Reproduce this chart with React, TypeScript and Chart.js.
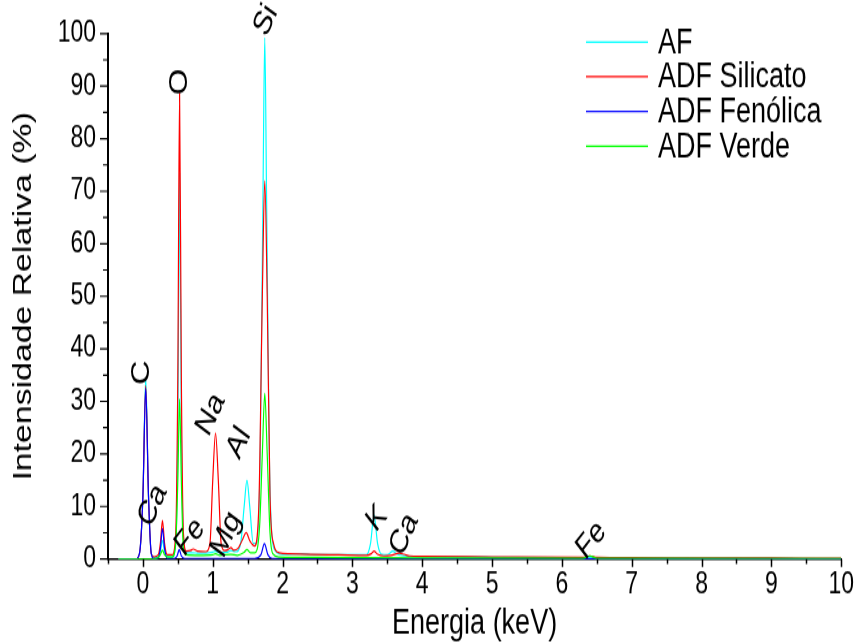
import React, { useEffect, useRef } from "react";
import { Chart, registerables } from "chart.js";

Chart.register(...registerables);

const FONT = '"Liberation Sans", Arial, Helvetica, sans-serif';

// The picture is shown vertically stretched (like the reference figure)
const CANVAS_W = 860;
const CANVAS_H = 495;
const SHOW_H = 644;
const S = SHOW_H / CANVAS_H;

const seriesNames = ["AF", "ADF Silicato", "ADF Fenólica", "ADF Verde"];
const seriesColors = ["#00FFFF", "#FF0000", "#0000FF", "#00FF00"];

// AF (cyan)
const afE = [-0.35, -0.1, -0.05, 0.0, 0.04, 0.08, 0.12, 0.16, 0.22, 0.25, 0.28, 0.31, 0.35, 0.42, 0.47, 0.5, 0.525, 0.55, 0.58, 0.62, 0.7, 0.8, 0.9, 1.0, 1.04, 1.1, 1.2, 1.26, 1.33, 1.4, 1.45, 1.49, 1.53, 1.58, 1.63, 1.68, 1.72, 1.745, 1.77, 1.81, 1.85, 1.9, 2.0, 2.28, 2.4, 2.6, 3.0, 3.2, 3.26, 3.31, 3.36, 3.42, 3.5, 3.58, 3.64, 3.75, 4.0, 5.0, 6.0, 7.0, 8.0, 9.0, 10.0];
const afI = [0, 0, 1, 12, 34.5, 12, 1, 0.3, 0.5, 1.5, 3.5, 1.5, 0.5, 0.4, 3, 25, 73.4, 25, 4, 1.2, 1.2, 1.1, 1.1, 1.3, 1.5, 1.2, 1.3, 1.6, 1.4, 3, 10, 15, 10, 3, 3, 20, 70, 99.2, 70, 20, 4, 1.5, 0.9, 1.0, 0.85, 0.8, 0.8, 0.85, 3, 8.4, 3, 0.9, 0.85, 1.5, 0.9, 0.6, 0.5, 0.35, 0.25, 0.2, 0.15, 0.12, 0.1];

// ADF Silicato (red)
const silE = [-0.35, -0.1, -0.05, 0.0, 0.04, 0.08, 0.12, 0.16, 0.22, 0.25, 0.28, 0.31, 0.35, 0.42, 0.47, 0.5, 0.525, 0.55, 0.58, 0.62, 0.68, 0.72, 0.78, 0.9, 0.96, 1.0, 1.04, 1.08, 1.12, 1.17, 1.22, 1.26, 1.3, 1.36, 1.42, 1.48, 1.53, 1.6, 1.66, 1.71, 1.745, 1.78, 1.82, 1.87, 1.95, 2.1, 2.4, 2.8, 3.2, 3.27, 3.31, 3.36, 3.45, 3.55, 3.67, 3.74, 3.82, 4.0, 5.0, 6.3, 6.4, 6.5, 7.0, 8.0, 9.0, 10.0];
const silI = [0, 0, 1, 12, 33, 12, 1, 0.4, 0.8, 3, 7.3, 3, 0.8, 0.8, 5, 35, 88.7, 35, 5, 1.5, 1.6, 1.9, 1.5, 1.4, 3, 15, 24, 15, 3, 1.6, 1.8, 2.2, 1.7, 2.0, 3.5, 5, 3.5, 2.5, 10, 50, 72, 50, 12, 3, 1.2, 1.0, 0.9, 0.8, 0.7, 1.0, 1.5, 0.9, 0.6, 0.7, 1.1, 0.9, 0.6, 0.5, 0.4, 0.3, 0.6, 0.3, 0.25, 0.2, 0.18, 0.15];

// ADF Fenólica (blue)
const fenE = [-0.35, -0.1, -0.05, 0.0, 0.04, 0.08, 0.12, 0.16, 0.22, 0.25, 0.28, 0.31, 0.35, 0.45, 0.49, 0.52, 0.55, 0.6, 1.6, 1.69, 1.74, 1.79, 1.85, 10.0];
const fenI = [0, 0, 1, 12, 32.5, 12, 1, 0, 0.2, 2, 5.8, 2, 0.1, 0.1, 0.6, 1.8, 0.6, 0.1, 0.1, 0.8, 2.9, 0.8, 0.1, 0];

// ADF Verde (green)
const verE = [-0.35, 0.15, 0.22, 0.25, 0.28, 0.31, 0.35, 0.42, 0.47, 0.5, 0.525, 0.55, 0.58, 0.62, 0.8, 1.0, 1.04, 1.1, 1.26, 1.35, 1.45, 1.49, 1.54, 1.6, 1.67, 1.71, 1.745, 1.78, 1.82, 1.86, 1.95, 2.5, 4.0, 6.3, 6.4, 6.5, 10.0];
const verI = [0, 0, 0.3, 0.8, 1.7, 0.8, 0.4, 0.4, 3, 15, 30.5, 15, 2, 0.8, 0.7, 0.8, 1.0, 0.7, 0.9, 0.7, 1.3, 1.8, 1.2, 1.2, 6, 20, 31.5, 20, 5, 1, 0.4, 0.3, 0.2, 0.15, 0.6, 0.15, 0.1];

const seriesE = [afE, silE, fenE, verE];
const seriesI = [afI, silI, fenI, verI];

const xMajorTicks = [0, 1, 2, 3, 4, 5, 6, 7, 8, 9, 10];
const xMinorTicks = [-0.5, 0.5, 1.5, 2.5, 3.5, 4.5, 5.5, 6.5, 7.5, 8.5, 9.5];
const yMajorTicks = [0, 10, 20, 30, 40, 50, 60, 70, 80, 90, 100];
const yMinorTicks = [5, 15, 25, 35, 45, 55, 65, 75, 85, 95];

// Element annotations (energy, intensity, rotation in degrees)
const annText = ["C", "O", "Si", "Na", "Al", "Ca", "Fe", "Mg", "K", "Ca", "Fe"];
const annE = [-0.014, 0.53, 1.76, 0.97, 1.375, 0.14, 0.67, 1.19, 3.35, 3.74, 6.42];
const annI = [35.5, 90.8, 102.5, 27.5, 22.1, 10.2, 4.2, 4.7, 7.7, 4.7, 3.6];
const annAngle = [-90, -90, -60, -60, -60, -60, -45, -60, -45, -60, -45];

const decorPlugin = {
  id: "decor",
  afterDraw(chart: any) {
    const { ctx, chartArea } = chart;
    const xs = chart.scales.x;
    const ys = chart.scales.y;
    ctx.save();
    ctx.strokeStyle = "#000";
    // x ticks (vertical strokes)
    ctx.lineWidth = 1.5;
    ctx.beginPath();
    for (const v of xMajorTicks) {
      const p = Math.round(xs.getPixelForValue(v)) + 0.5;
      ctx.moveTo(p, chartArea.bottom);
      ctx.lineTo(p, chartArea.bottom + 8 / S);
    }
    for (const v of xMinorTicks) {
      const p = Math.round(xs.getPixelForValue(v)) + 0.5;
      ctx.moveTo(p, chartArea.bottom);
      ctx.lineTo(p, chartArea.bottom + 5 / S);
    }
    ctx.stroke();
    // y ticks (horizontal strokes)
    ctx.lineWidth = 1.5 / S;
    ctx.beginPath();
    for (const v of yMajorTicks) {
      const p = ys.getPixelForValue(v);
      ctx.moveTo(chartArea.left, p);
      ctx.lineTo(chartArea.left - 8, p);
    }
    for (const v of yMinorTicks) {
      const p = ys.getPixelForValue(v);
      ctx.moveTo(chartArea.left, p);
      ctx.lineTo(chartArea.left - 5, p);
    }
    ctx.stroke();

    // annotations
    ctx.fillStyle = "#000";
    ctx.font = `26px ${FONT}`;
    ctx.textAlign = "center";
    ctx.textBaseline = "middle";
    for (let i = 0; i < annText.length; i++) {
      const px = xs.getPixelForValue(annE[i]);
      const py = ys.getPixelForValue(annI[i]);
      ctx.save();
      ctx.translate(px, py);
      ctx.rotate((annAngle[i] * Math.PI) / 180);
      ctx.fillText(annText[i], 0, 0);
      ctx.restore();
    }

    // legend
    const lx0 = 586;
    const lx1 = 648;
    const ly0 = 42 / S;
    const dy = 34.7 / S;
    ctx.font = `27px ${FONT}`;
    ctx.textAlign = "left";
    ctx.textBaseline = "middle";
    chart.data.datasets.forEach((ds: any, i: number) => {
      const yy = ly0 + i * dy;
      ctx.strokeStyle = ds.borderColor;
      ctx.lineWidth = 1.2;
      ctx.beginPath();
      ctx.moveTo(lx0, yy);
      ctx.lineTo(lx1, yy);
      ctx.stroke();
      ctx.fillStyle = "#000";
      ctx.fillText(ds.label, 658, yy + 1);
    });
    ctx.restore();
  },
};

export default function App() {
  const canvasRef = useRef<HTMLCanvasElement | null>(null);

  useEffect(() => {
    document.body.style.margin = "0";
    const canvas = canvasRef.current;
    if (!canvas) return;
    const datasets = seriesNames.map((name, i) => ({
      label: name,
      data: seriesE[i].map((e, j) => ({ x: e, y: seriesI[i][j] })),
      borderColor: seriesColors[i],
      backgroundColor: seriesColors[i],
      borderWidth: 1.2,
      pointRadius: 0,
      fill: false,
      cubicInterpolationMode: "monotone" as const,
      order: seriesNames.length - 1 - i,
    }));
    const chart = new Chart(canvas, {
      type: "line",
      data: { datasets },
      options: {
        animation: false,
        responsive: false,
        layout: { padding: { left: 0, right: 18, top: 30 / S, bottom: 0 } },
        plugins: {
          legend: { display: false },
          tooltip: { enabled: false },
        },
        scales: {
          x: {
            type: "linear",
            min: -0.5,
            max: 10,
            afterBuildTicks: (s: any) => {
              s.ticks = xMajorTicks.map((v) => ({ value: v }));
            },
            afterFit: (s: any) => {
              s.height = 85 / S;
            },
            grid: { display: true, drawOnChartArea: false, drawTicks: false },
            border: { display: true, color: "#000", width: 1.5 },
            ticks: {
              color: "#000",
              font: { family: FONT, size: 23 },
              padding: 6,
              maxRotation: 0,
              autoSkip: false,
            },
            title: {
              display: true,
              text: "Energia (keV)",
              color: "#000",
              font: { family: FONT, size: 27, lineHeight: 1.1 },
              padding: { top: 0, bottom: 1 },
            },
          },
          y: {
            type: "linear",
            min: 0,
            max: 100,
            afterBuildTicks: (s: any) => {
              s.ticks = yMajorTicks.map((v) => ({ value: v }));
            },
            afterFit: (s: any) => {
              s.width = 108;
            },
            grid: { display: true, drawOnChartArea: false, drawTicks: false },
            border: { display: true, color: "#000", width: 2 },
            ticks: {
              color: "#000",
              font: { family: FONT, size: 23 },
              padding: 12,
              autoSkip: false,
            },
            title: {
              display: true,
              text: "Intensidade Relativa (%)",
              color: "#000",
              font: { family: FONT, size: 26, lineHeight: 1.2 },
              padding: { top: 8, bottom: 0 },
            },
          },
        },
      },
      plugins: [decorPlugin],
    });
    return () => chart.destroy();
  }, []);

  return (
    <div style={{ width: CANVAS_W, height: SHOW_H }}>
      <canvas
        ref={canvasRef}
        width={CANVAS_W}
        height={CANVAS_H}
        style={{ display: "block", width: CANVAS_W, height: SHOW_H }}
      />
    </div>
  );
}
